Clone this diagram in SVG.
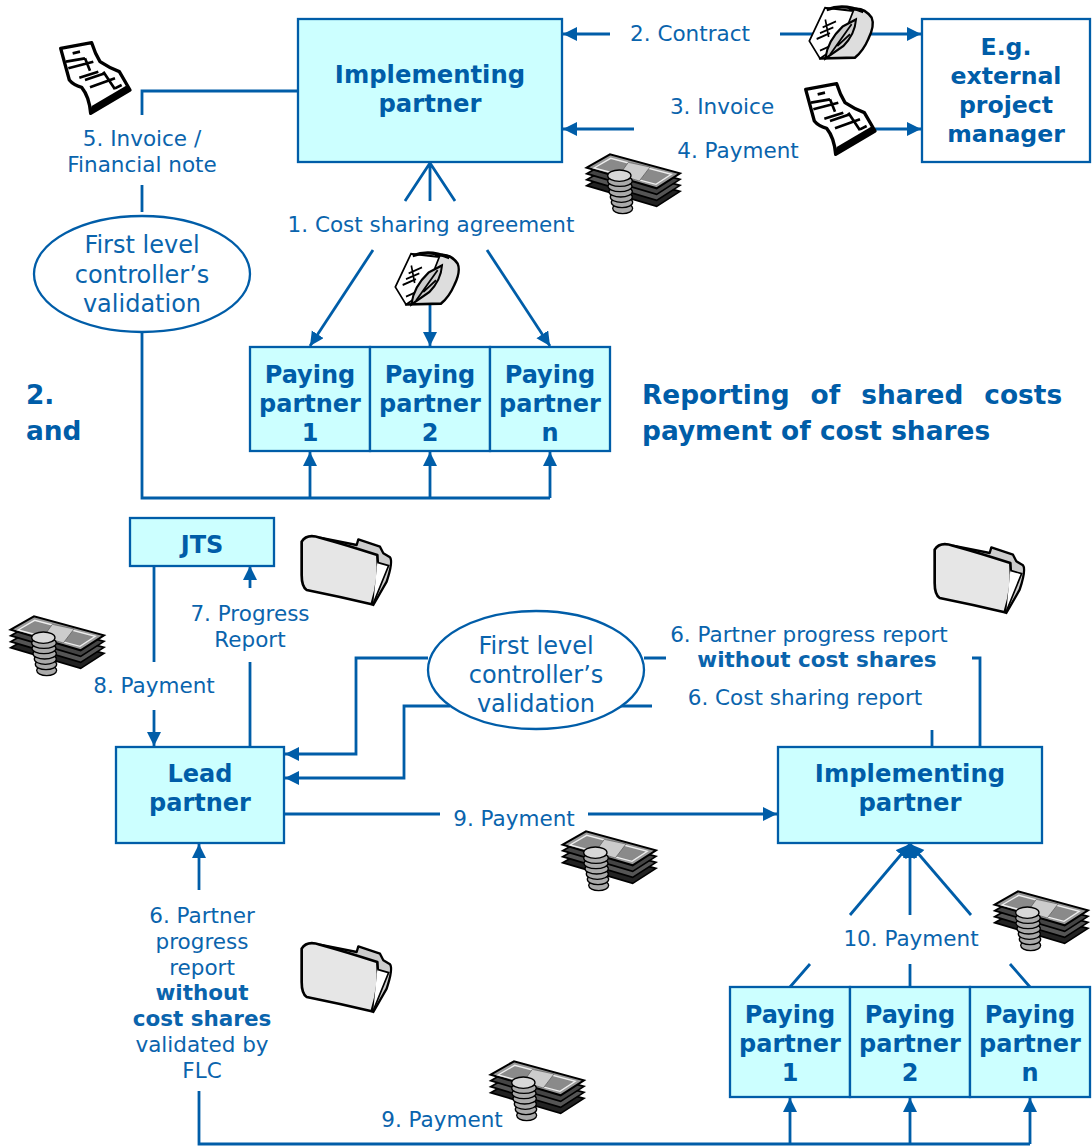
<svg xmlns="http://www.w3.org/2000/svg" width="1092" height="1147" viewBox="0 0 1092 1147">
<style>
text{font-family:"DejaVu Sans",Verdana,sans-serif;fill:#0a64ad;font-size:21.5px;text-anchor:middle}
.b{font-weight:bold}
.n{font-weight:bold;font-size:24px;fill:#005da8}
.h{font-weight:bold;font-size:26.4px;fill:#005da8;text-anchor:start}
.box{fill:#ccffff;stroke:#005da8;stroke-width:2.3}
.wbox{fill:#fff;stroke:#005da8;stroke-width:2.3}
.el{fill:#fff;stroke:#005da8;stroke-width:2.3}
.e{font-size:24px}
.c{fill:none;stroke:#005da8;stroke-width:2.8}
.a{marker-end:url(#arr)}
.t{font-size:23.6px}
.i{font-size:24.3px}
</style>
<defs>
<marker id="arr" markerUnits="userSpaceOnUse" markerWidth="16" markerHeight="16" refX="14" refY="7" orient="auto"><path d="M0 0L14 7L0 14Z" fill="#005da8"/></marker>
<g id="invoice" transform="scale(.3333)">
<path d="M62 55L155 38Q165 70 180 95Q210 115 238 125L270 180L152 250Q148 200 125 172Q100 165 88 150Z" fill="#fff" stroke="#000" stroke-width="10" stroke-linejoin="round"/>
<path d="M148 250L272 180L262 165L155 228Z" fill="#000"/>
<path d="M78 95L135 85M85 115L160 95M118 143L175 125M135 150L195 130M150 172L225 145M225 175L245 165M135 85L150 122M190 125L225 178M98 70L120 65" fill="none" stroke="#000" stroke-width="8"/>
</g>
<g id="pen" transform="scale(.3333,.39)">
<path d="M150 25Q190 15 215 45Q225 65 205 100Q190 130 165 148L60 150Z" fill="#ddd" stroke="#000" stroke-width="7" stroke-linejoin="round"/>
<path d="M60 150L28 105L75 20L160 28L120 115Z" fill="#fff" stroke="#000" stroke-width="5"/>
<path d="M80 25Q130 8 190 30" fill="none" stroke="#000" stroke-width="8"/>
<path d="M76 150Q82 105 128 68L168 50Q165 88 130 118Z" fill="#ccc" stroke="#000" stroke-width="6"/>
<path d="M90 140L155 62M112 118L150 88" stroke="#000" stroke-width="5"/>
<path d="M60 85L100 70M68 70L108 55M50 100L90 85M76 50L86 95M85 120L60 130" stroke="#000" stroke-width="5"/>
</g>
<g id="money" transform="scale(.3333)">
<path d="M20 122L90 82L300 139L230 184Z" fill="#222" stroke="#000" stroke-width="5"/>
<path d="M20 104L90 64L300 121L230 166Z" fill="#555" stroke="#000" stroke-width="5"/>
<path d="M20 86L90 46L300 103L230 148Z" fill="#444" stroke="#000" stroke-width="5"/>
<path d="M20 68L90 28L300 85L230 130Z" fill="#999" stroke="#000" stroke-width="6"/>
<path d="M42 69L92 40L274 88L228 118Z" fill="#8a8a8a" stroke="#eee" stroke-width="4"/>
<path d="M145 52L210 66L178 108L118 90Z" fill="#ccc" stroke="#555" stroke-width="2"/>
<g fill="#aaa" stroke="#000" stroke-width="4">
<ellipse cx="128" cy="190" rx="30" ry="16"/><ellipse cx="126" cy="172" rx="32" ry="16"/><ellipse cx="124" cy="156" rx="33" ry="16"/><ellipse cx="122" cy="140" rx="35" ry="16"/><ellipse cx="120" cy="124" rx="36" ry="16"/><ellipse cx="120" cy="108" rx="37" ry="16"/><ellipse cx="118" cy="92" rx="35" ry="17" fill="#d8d8d8"/></g>
</g>
<g id="folder" transform="scale(.3333)">
<path d="M90 38L200 60L205 43L270 65L280 85L300 97Q310 110 290 170L250 240Z" fill="#ccc" stroke="#000" stroke-width="7" stroke-linejoin="round"/>
<path d="M35 50Q50 25 90 38Q170 60 262 90Q270 160 245 238Q150 215 50 195Q35 185 35 150Z" fill="#e6e6e6" stroke="#000" stroke-width="8" stroke-linejoin="round"/>
<path d="M262 112L296 122L250 235" fill="#fff" stroke="#000" stroke-width="5"/>
</g>
</defs>

<g id="connectors">
<path class="c a" d="M610 34H563"/>
<path class="c a" d="M780 34H921"/>
<path class="c a" d="M634 129H563"/>
<path class="c a" d="M875 129H921"/>
<path class="c" d="M298 91H142V115M142 185V212M142 332V498H550"/>
<path class="c" d="M430 163L405 201M430 163V201M430 163L455 201"/>
<path class="c a" d="M373 250L310 346"/>
<path class="c a" d="M430 304V346"/>
<path class="c a" d="M487 250L550 346"/>
<path class="c a" d="M310 498V452"/>
<path class="c a" d="M430 498V452"/>
<path class="c a" d="M550 498V452"/>
<path class="c" d="M154 566V662"/>
<path class="c a" d="M154 710V746"/>
<path class="c a" d="M250 588V566"/>
<path class="c" d="M250 662V746"/>
<path class="c a" d="M428 658H356V754H285"/>
<path class="c a" d="M450 706H404V778H285"/>
<path class="c" d="M644 658H666M972 658H980V746M620 706H652M932 730V746"/>
<path class="c" d="M285 814H440"/>
<path class="c a" d="M588 814H777"/>
<path class="c a" d="M199 890V844"/>
<path class="c" d="M199 1091V1144H1030"/>
<path class="c a" d="M790 1144V1098"/>
<path class="c a" d="M910 1144V1098"/>
<path class="c a" d="M1030 1144V1098"/>
<path class="c a" d="M850 915L910 844"/>
<path class="c a" d="M910 915V844"/>
<path class="c a" d="M971 915L910 844"/>
<path class="c" d="M790 987L810 964M910 987V964M1030 987L1010 964"/>
</g>

<g id="implementing-partner-top"><rect class="box" x="298" y="19" width="264" height="143"/><text class="n i" x="430" y="83">Implementing</text><text class="n i" x="430" y="112">partner</text></g>
<g id="external-manager"><rect class="wbox" x="922" y="19" width="168" height="143"/><text class="n t" x="1006" y="55">E.g.</text><text class="n t" x="1006" y="84">external</text><text class="n t" x="1006" y="113">project</text><text class="n t" x="1006" y="142">manager</text></g>
<g id="flc-top"><ellipse class="el" cx="142" cy="274" rx="108" ry="58"/><text class="e" x="142" y="253">First level</text><text class="e" x="142" y="283">controller’s</text><text class="e" x="142" y="312">validation</text></g>
<g id="paying-top-1"><rect class="box" x="250" y="347" width="120" height="104"/><text class="n" x="310" y="383">Paying</text><text class="n" x="310" y="412">partner</text><text class="n" x="310" y="441">1</text></g>
<g id="paying-top-2"><rect class="box" x="370" y="347" width="120" height="104"/><text class="n" x="430" y="383">Paying</text><text class="n" x="430" y="412">partner</text><text class="n" x="430" y="441">2</text></g>
<g id="paying-top-n"><rect class="box" x="490" y="347" width="120" height="104"/><text class="n" x="550" y="383">Paying</text><text class="n" x="550" y="412">partner</text><text class="n" x="550" y="441">n</text></g>
<g id="jts"><rect class="box" x="130" y="518" width="144" height="48"/><text class="n" x="202" y="553">JTS</text></g>
<g id="flc-bottom"><ellipse class="el" cx="536" cy="670" rx="108" ry="59"/><text class="e" x="536" y="654">First level</text><text class="e" x="536" y="683">controller’s</text><text class="e" x="536" y="712">validation</text></g>
<g id="lead-partner"><rect class="box" x="116" y="747" width="168" height="96"/><text class="n" x="200" y="782">Lead</text><text class="n" x="200" y="811">partner</text></g>
<g id="implementing-partner-bottom"><rect class="box" x="778" y="747" width="264" height="96"/><text class="n i" x="910" y="782">Implementing</text><text class="n i" x="910" y="811">partner</text></g>
<g id="paying-bottom-1"><rect class="box" x="730" y="987" width="120" height="110"/><text class="n" x="790" y="1023">Paying</text><text class="n" x="790" y="1052">partner</text><text class="n" x="790" y="1081">1</text></g>
<g id="paying-bottom-2"><rect class="box" x="850" y="987" width="120" height="110"/><text class="n" x="910" y="1023">Paying</text><text class="n" x="910" y="1052">partner</text><text class="n" x="910" y="1081">2</text></g>
<g id="paying-bottom-n"><rect class="box" x="970" y="987" width="120" height="110"/><text class="n" x="1030" y="1023">Paying</text><text class="n" x="1030" y="1052">partner</text><text class="n" x="1030" y="1081">n</text></g>

<g id="labels">
<text x="690" y="41">2. Contract</text>
<text x="722" y="114">3. Invoice</text>
<text x="738" y="158">4. Payment</text>
<text x="142" y="146">5. Invoice /</text>
<text x="142" y="172">Financial note</text>
<text x="431" y="232">1. Cost sharing agreement</text>
<text class="h" x="26" y="404">2.</text>
<text class="h" x="26" y="440">and</text>
<text class="h" x="642" y="404" word-spacing="11.8">Reporting of shared costs</text>
<text class="h" x="642" y="440">payment of cost shares</text>
<text x="250" y="621">7. Progress</text>
<text x="250" y="647">Report</text>
<text x="154" y="693">8. Payment</text>
<text x="809" y="642">6. Partner progress report</text>
<text class="b" x="817" y="667">without cost shares</text>
<text x="805" y="705">6. Cost sharing report</text>
<text x="514" y="826">9. Payment</text>
<text x="911" y="946">10. Payment</text>
<text x="202" y="923">6. Partner</text>
<text x="202" y="949">progress</text>
<text x="202" y="975">report</text>
<text class="b" x="202" y="1000">without</text>
<text class="b" x="202" y="1026">cost shares</text>
<text x="202" y="1052">validated by</text>
<text x="202" y="1078">FLC</text>
<text x="442" y="1127">9. Payment</text>
</g>

<g id="icons">
<use href="#invoice" x="40" y="30"/>
<use href="#invoice" x="785" y="71"/>
<use href="#pen" x="800" y="0"/>
<use href="#pen" x="386" y="246"/>
<use href="#money" x="580" y="145"/>
<use href="#money" x="4" y="607"/>
<use href="#money" x="556" y="822"/>
<use href="#money" x="988" y="882"/>
<use href="#money" x="484" y="1052"/>
<use href="#folder" x="290" y="525"/>
<use href="#folder" x="923" y="533"/>
<use href="#folder" x="290" y="932"/>
</g>
</svg>
